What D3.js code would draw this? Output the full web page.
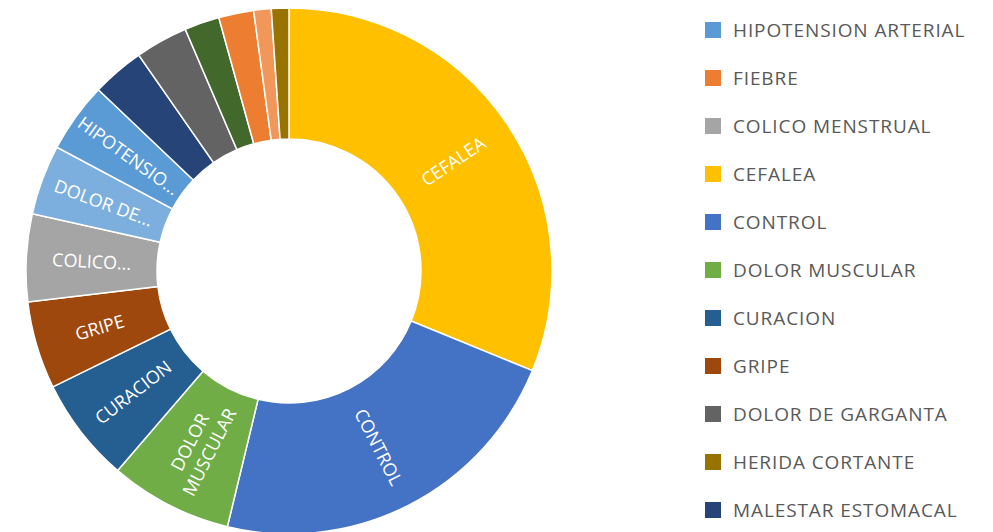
<!DOCTYPE html>
<html>
<head>
<meta charset="utf-8">
<script src="https://cdn.jsdelivr.net/npm/d3@7"></script>
<style>
  body { margin: 0; background: #fff; }
  svg { display: block; }
</style>
</head>
<body>
<script>
// slices, clockwise from 12 o'clock
const sliceNames = ["CEFALEA", "CONTROL", "DOLOR MUSCULAR", "CURACION", "GRIPE",
    "COLICO MENSTRUAL", "DOLOR DE...", "HIPOTENSION ARTERIAL", "MALESTAR ESTOMACAL",
    "DOLOR DE GARGANTA", "(sin nombre 1)", "FIEBRE", "(sin nombre 2)", "HERIDA CORTANTE"];
const sliceValues = [29, 21, 7, 6, 5, 5, 4, 4, 3, 3, 2, 2, 1, 1];
const sliceColors = ["#FFC000", "#4472C4", "#70AD47", "#255E91", "#9E480E",
    "#A5A5A5", "#7CAFDD", "#5B9BD5", "#264478", "#636363", "#43682B", "#ED7D31", "#F1975A", "#997300"];
// text shown inside the ring (empty = no label fits)
const sliceLabels = [["CEFALEA"], ["CONTROL"], ["DOLOR", "MUSCULAR"], ["CURACION"], ["GRIPE"],
    ["COLICO..."], ["DOLOR DE..."], ["HIPOTENSIO..."], [], [], [], [], [], []];

// legend (visible part)
const legendNames = ["HIPOTENSION ARTERIAL", "FIEBRE", "COLICO MENSTRUAL", "CEFALEA", "CONTROL",
    "DOLOR MUSCULAR", "CURACION", "GRIPE", "DOLOR DE GARGANTA", "HERIDA CORTANTE", "MALESTAR ESTOMACAL"];
const legendColors = ["#5B9BD5", "#ED7D31", "#A5A5A5", "#FFC000", "#4472C4",
    "#70AD47", "#255E91", "#9E480E", "#636363", "#997300", "#264478"];

const w = 993, h = 532;
const cx = 289, cy = 271;
const outerR = 263, innerR = 132;

const svg = d3.select("body").append("svg")
    .attr("width", w)
    .attr("height", h);

const data = sliceValues.map(function (v, i) {
    return { name: sliceNames[i], value: v, color: sliceColors[i], label: sliceLabels[i] };
});

const pie = d3.pie().sort(null).value(function (d) { return d.value; });
const arc = d3.arc().innerRadius(innerR).outerRadius(outerR);
const arcs = pie(data);

const g = svg.append("g").attr("transform", "translate(" + cx + "," + cy + ")");

g.selectAll("path")
    .data(arcs)
    .enter()
    .append("path")
    .attr("d", arc)
    .attr("fill", function (d) { return d.data.color; })
    .attr("stroke", "#fff")
    .attr("stroke-width", 1.5);

// labels run along the radius, flipped on the left half so they read left to right
const labelR = (innerR + outerR) / 2;
const lineH = 22;

const labels = g.selectAll("g.lbl")
    .data(arcs.filter(function (d) { return d.data.label.length > 0; }))
    .enter()
    .append("g")
    .attr("class", "lbl")
    .attr("transform", function (d) {
        const a = (d.startAngle + d.endAngle) / 2;
        const deg = a * 180 / Math.PI;
        const x = labelR * Math.sin(a);
        const y = -labelR * Math.cos(a);
        const rot = deg < 180 ? deg - 90 : deg - 270;
        return "translate(" + x + "," + y + ")rotate(" + rot + ")";
    });

labels.each(function (d) {
    const lines = d.data.label;
    const sel = d3.select(this);
    lines.forEach(function (t, i) {
        sel.append("text")
            .attr("text-anchor", "middle")
            .attr("dominant-baseline", "central")
            .attr("y", (i - (lines.length - 1) / 2) * lineH)
            .attr("fill", "#fff")
            .style("font-family", "'Open Sans', sans-serif")
            .style("font-size", "18px")
            .text(t);
    });
});

// legend
const legend = svg.append("g");
const lx = 705, ly0 = 30, step = 48;

legend.selectAll("rect")
    .data(legendNames)
    .enter()
    .append("rect")
    .attr("x", lx)
    .attr("y", function (d, i) { return ly0 + i * step - 8; })
    .attr("width", 16)
    .attr("height", 16)
    .attr("fill", function (d, i) { return legendColors[i]; });

legend.selectAll("text")
    .data(legendNames)
    .enter()
    .append("text")
    .attr("x", lx + 28)
    .attr("y", function (d, i) { return ly0 + i * step; })
    .attr("dominant-baseline", "central")
    .attr("fill", "#595959")
    .style("font-family", "'Open Sans', sans-serif")
    .style("font-size", "19px")
    .style("letter-spacing", "0.9px")
    .text(function (d) { return d; });
</script>
</body>
</html>
